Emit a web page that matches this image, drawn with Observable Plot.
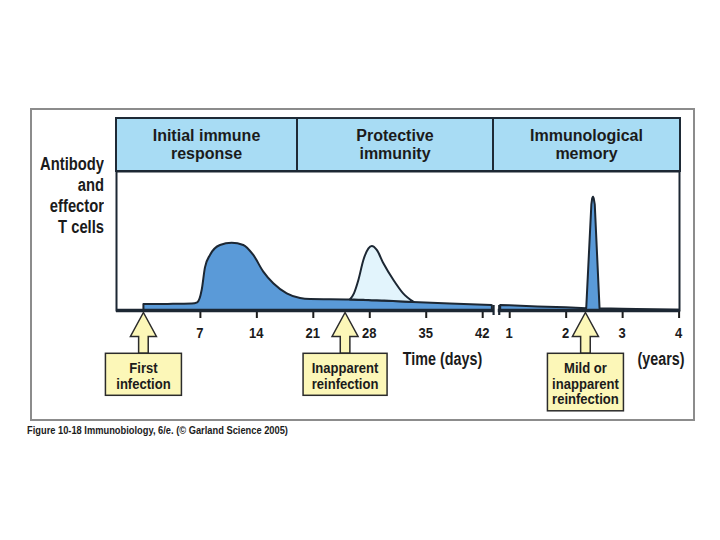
<!DOCTYPE html>
<html><head><meta charset="utf-8">
<script src="https://cdn.jsdelivr.net/npm/d3@7"></script>
<script src="https://cdn.jsdelivr.net/npm/@observablehq/plot@0.6"></script>
<style>
html,body{margin:0;padding:0;background:#fff;}
#wrap{position:relative;width:720px;height:540px;overflow:hidden;font-family:"Liberation Sans",Arial,sans-serif;color:#1b1b1b;}
#outer{position:absolute;left:30px;top:108px;width:661px;height:309px;border:2px solid #8c8c8c;}
#header{position:absolute;left:115px;top:117px;height:51px;border:2px solid #1e2a36;background:#a8dcf4;display:flex;}
.cell{display:flex;align-items:center;justify-content:center;text-align:center;font-weight:bold;font-size:16px;line-height:18px;height:51px;box-sizing:content-box;}
#ylab{position:absolute;left:0;top:154px;width:104px;text-align:right;font-weight:bold;font-size:18px;line-height:21px;transform:scaleX(0.82);transform-origin:104px 0;}
#caption{position:absolute;left:27px;top:425px;font-weight:bold;font-size:10px;line-height:12px;white-space:nowrap;transform:scaleX(0.93);transform-origin:0 0;}
#chart{position:absolute;left:0;top:165px;}
#chart g[aria-label="x-axis tick"]{stroke-width:2px;}
#chart g[aria-label="x-axis tick"] path{stroke-width:2px;}
</style>
</head><body>
<div id="wrap">
  <div id="outer"></div>
  <div id="header"></div>
  <div id="ylab"></div>
  <div id="chart"></div>
  <div id="caption"></div>
</div>
<script>
// ---- data ----
const phaseLabels = [["Initial immune", "response"], ["Protective", "immunity"], ["Immunological", "memory"]];
const yLabelLines = ["Antibody", "and", "effector", "T cells"];
const captionText = "Figure 10-18  Immunobiology, 6/e. (© Garland Science 2005)";
const axisTitles = ["Time (days)", "(years)"];

// primary response (days) : level of antibody / effector T cells
const primaryDays  = [0, 3, 6, 6.67, 7.22, 7.63, 8.25, 9.49, 10.94, 12.38, 13.62, 14.86, 16.1, 17.77, 19.42, 20.66, 25.6, 29.3, 33.4, 38.0, 43.2];
const primaryLevel = [4.3, 4.4, 4.6, 5.5, 14.4, 30.7, 39.6, 46.8, 48.4, 46.8, 39.6, 27.6, 19.2, 12.0, 8.6, 7.9, 7.6, 6.9, 5.8, 4.7, 3.5];

// inapparent reinfection response (days)
const reinfectDays = [25.6, 26.1, 26.65, 27.27, 27.9, 28.31, 28.93, 29.75, 31.0, 32.2, 33.5];
const reinfectBase = [7.6, 7.5, 7.4, 7.3, 7.2, 7.1, 7.0, 6.8, 6.5, 6.1, 5.8];
const reinfectTop  = [7.6, 12.0, 21.6, 36.0, 44.4, 46.0, 43.2, 33.6, 21.6, 12.0, 5.8];

// memory phase (years)
const memoryYears = [0.84, 1.0, 1.5, 2.0, 2.364, 2.455, 2.47, 2.483, 2.496, 2.515, 2.60, 3.0, 3.5, 4.0];
const memoryLevel = [3.6, 3.4, 2.6, 1.9, 1.3, 76, 80.5, 81.5, 80.5, 76, 1.2, 0.9, 0.5, 0.1];

// axis ticks
const tickDays = [7, 14, 21, 28, 35, 42];
const tickYears = [1, 2, 3, 4];

// infections
const infectionDays = [0, 25];
const infectionYears = [2.35];
const infectionLabels = [["First", "infection"], ["Inapparent", "reinfection"], ["Mild or", "inapparent", "reinfection"]];

// ---- composite time axis: days, then a break, then years ----
const yearOrigin = 38.35, unitsPerYear = 7;
const fromDay = d => d;
const fromYear = y => yearOrigin + unitsPerYear * y;
const breakAt = [43.35, 44.05];

const primary = primaryDays.map((d, i) => ({u: fromDay(d), v: primaryLevel[i]}));
const reinfect = reinfectDays.map((d, i) => ({u: fromDay(d), b: reinfectBase[i], t: reinfectTop[i]}));
const memory = memoryYears.map((y, i) => ({u: fromYear(y), v: memoryLevel[i]}));
const tickU = [...tickDays.map(fromDay), ...tickYears.map(fromYear)];
const tickLabelList = [...tickDays, ...tickYears].map(String);
const infections = [
  ...infectionDays.map(fromDay),
  ...infectionYears.map(fromYear)
].map((u, i) => ({u, lines: infectionLabels[i]}));
const axisTitleAt = [fromDay(42), fromYear(4)];

// ---- HTML pieces ----
const header = document.getElementById("header");
const cellWidths = [179, 194, 185];
phaseLabels.forEach((lines, i) => {
  const c = document.createElement("div");
  c.className = "cell";
  c.style.width = cellWidths[i] + "px";
  if (i < phaseLabels.length - 1) c.style.borderRight = "2px solid #1e2a36";
  c.innerHTML = lines.join("<br>");
  header.appendChild(c);
});
document.getElementById("ylab").innerHTML = yLabelLines.join("<br>");
document.getElementById("caption").textContent = captionText;

// ---- styles ----
const ink = "#1c2733";
const darkFill = "#5a9ad8";
const lightFill = "#e2f4fc";
const arrowFill = "#fcf7b8";
const font = "Liberation Sans, Arial, sans-serif";
const boxW = [76, 84, 76];

function narrowText(g, x, y, str, size, anchor, sx) {
  g.append("text")
    .attr("transform", `translate(${x},${y}) scale(${sx},1)`)
    .attr("text-anchor", anchor)
    .attr("font-family", font).attr("font-weight", "bold").attr("font-size", size)
    .attr("fill", "#1b1b1b").text(str);
}

function annotationsMark(index, scales) {
  const g = d3.create("svg:g");
  const y0 = scales.y(0);
  // tick labels
  tickU.forEach((u, i) => narrowText(g, scales.x(u), y0 + 28, tickLabelList[i], 15.5, "middle", 0.84));
  // infection arrows
  infections.forEach((d, i) => {
    const cx = scales.x(d.u);
    const tip = y0 + 2.5, headB = y0 + 26.5, boxT = y0 + 43.3;
    const boxH = 11 + 15.5 * d.lines.length;
    const hw = 13, sw = 4.8;
    g.append("path")
      .attr("d", `M${cx},${tip}L${cx + hw},${headB}L${cx + sw},${headB}L${cx + sw},${boxT}L${cx - sw},${boxT}L${cx - sw},${headB}L${cx - hw},${headB}Z`)
      .attr("fill", arrowFill).attr("stroke", "#2b2b2b").attr("stroke-width", 1.5).attr("stroke-linejoin", "miter");
    g.append("rect")
      .attr("x", cx - boxW[i] / 2).attr("y", boxT)
      .attr("width", boxW[i]).attr("height", boxH)
      .attr("fill", arrowFill).attr("stroke", "#2b2b2b").attr("stroke-width", 1.5);
    d.lines.forEach((t, k) => narrowText(g, cx, y0 + 63 + 15.5 * k, t, 14.5, "middle", 0.9));
  });
  // axis titles
  narrowText(g, scales.x(axisTitleAt[0]), y0 + 55, axisTitles[0], 17.5, "end", 0.82);
  narrowText(g, scales.x(axisTitleAt[1]) + 6, y0 + 55, axisTitles[1], 17.5, "end", 0.82);
  return g.node();
}

const plot = Plot.plot({
  width: 720,
  height: 255,
  marginLeft: 116,
  marginRight: 41,
  marginTop: 6,
  marginBottom: 110,
  style: {background: "transparent", overflow: "visible", fontFamily: font, fontSize: "13.5px", fontWeight: "bold", color: "#1b1b1b"},
  x: {domain: [-3.4, 66.4], ticks: tickU, tickFormat: () => "", tickSize: 8, label: null},
  y: {domain: [0, 100], axis: null},
  marks: [
    Plot.areaY(primary, {x: "u", y: "v", curve: "monotone-x", fill: darkFill, stroke: ink, strokeWidth: 2, strokeLinejoin: "round"}),
    Plot.areaY(reinfect, {x: "u", y1: "b", y2: "t", curve: "monotone-x", fill: lightFill, stroke: ink, strokeWidth: 2, strokeLinejoin: "round"}),
    Plot.areaY(memory, {x: "u", y: "v", curve: "linear", fill: darkFill, stroke: ink, strokeWidth: 2, strokeLinejoin: "round"}),
    Plot.frame({stroke: ink, strokeWidth: 2}),
    Plot.ruleY([0], {stroke: ink, strokeWidth: 3.5}),
    Plot.rect([breakAt], {x1: d => d[0] + 0.12, x2: d => d[1] - 0.12, y1: -2.5, y2: 2.5, fill: "white"}),
    Plot.ruleX(breakAt, {y1: -3.6, y2: 3.6, stroke: ink, strokeWidth: 2.2}),
    annotationsMark
  ]
});
document.getElementById("chart").appendChild(plot);
</script>
</body></html>
